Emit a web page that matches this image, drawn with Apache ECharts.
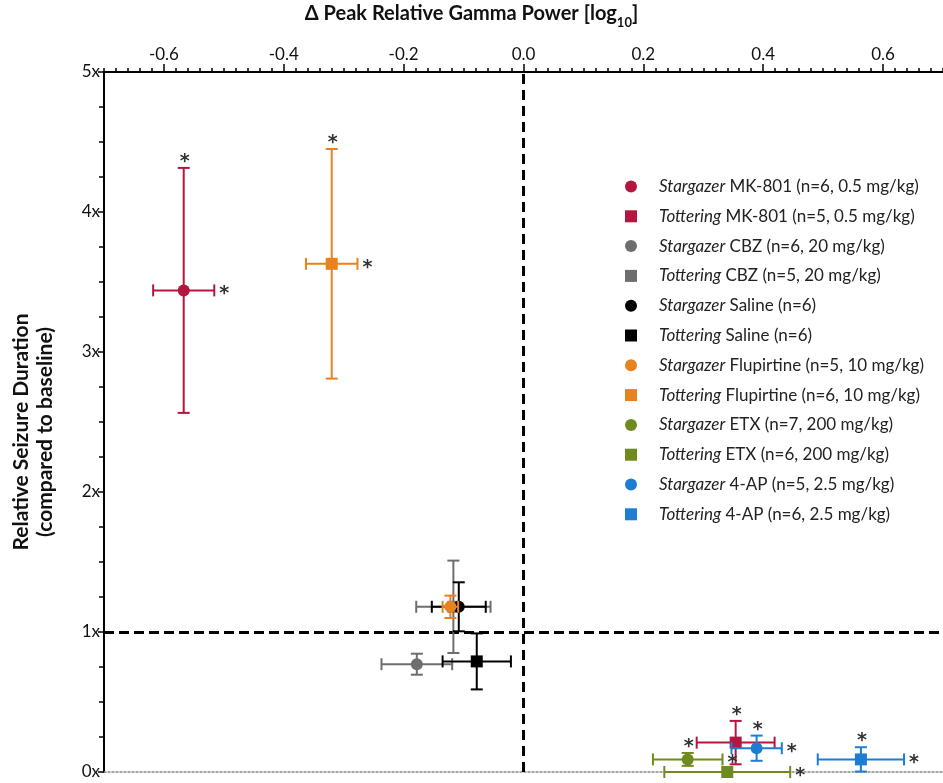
<!DOCTYPE html>
<html>
<head>
<meta charset="utf-8">
<script src="https://cdn.jsdelivr.net/npm/echarts@6/dist/echarts.min.js"></script>
<style>html,body{margin:0;padding:0;background:#fff;}#c{width:943px;height:783px;}</style>
</head>
<body>
<div id="c"></div>
<script>
// ---- data ----
const seriesNames = [
  'Stargazer MK-801 (n=6, 0.5 mg/kg)',
  'Tottering MK-801 (n=5, 0.5 mg/kg)',
  'Stargazer CBZ (n=6, 20 mg/kg)',
  'Tottering CBZ (n=5, 20 mg/kg)',
  'Stargazer Saline (n=6)',
  'Tottering Saline (n=6)',
  'Stargazer Flupirtine (n=5, 10 mg/kg)',
  'Tottering Flupirtine (n=6, 10 mg/kg)',
  'Stargazer ETX (n=7, 200 mg/kg)',
  'Tottering ETX (n=6, 200 mg/kg)',
  'Stargazer 4-AP (n=5, 2.5 mg/kg)',
  'Tottering 4-AP (n=6, 2.5 mg/kg)'
];
const gammaMean = [-0.567, 0.354, -0.178, -0.117, -0.108, -0.078, -0.122, -0.320, 0.274, 0.340, 0.389, 0.563];
const gammaErr  = [0.051, 0.065, 0.059, 0.062, 0.045, 0.057, 0.013, 0.043, 0.058, 0.105, 0.042, 0.072];
const durMean   = [3.44, 0.21, 0.77, 1.18, 1.18, 0.79, 1.18, 3.63, 0.09, 0.00, 0.17, 0.09];
const durErr    = [0.875, 0.155, 0.075, 0.33, 0.175, 0.20, 0.08, 0.82, 0.046, 0.0, 0.09, 0.087];
const starTop   = [1, 1, 0, 0, 0, 0, 0, 1, 1, 0, 1, 1];
const starRight = [1, 0, 0, 0, 0, 0, 0, 1, 1, 1, 1, 1];
const xTickLabels = [-0.6, -0.4, -0.2, 0.0, 0.2, 0.4, 0.6];
const yTickLabels = ['0x', '1x', '2x', '3x', '4x', '5x'];

// ---- styles ----
const colors = ['#B3173F', '#B3173F', '#6E6E6E', '#6E6E6E', '#000000', '#000000',
                '#E8821E', '#E8821E', '#6F8B1F', '#6F8B1F', '#1E7DD2', '#1E7DD2'];
const FONT = 'Lato';

function makeRender(i) {
  return function (params, api) {
    const x = api.value(0), y = api.value(1), xe = api.value(2), ye = api.value(3);
    const c = api.coord([x, y]);
    const l = api.coord([x - xe, y]);
    const r = api.coord([x + xe, y]);
    const t = api.coord([x, y + ye]);
    const b = api.coord([x, y - ye]);
    const col = colors[i];
    const cap = 6;
    const ls = { stroke: col, lineWidth: 2 };
    const ch = [];
    ch.push({ type: 'line', shape: { x1: l[0], y1: c[1], x2: r[0], y2: c[1] }, style: ls });
    ch.push({ type: 'line', shape: { x1: l[0], y1: c[1] - cap, x2: l[0], y2: c[1] + cap }, style: ls });
    ch.push({ type: 'line', shape: { x1: r[0], y1: c[1] - cap, x2: r[0], y2: c[1] + cap }, style: ls });
    if (ye > 0) {
      ch.push({ type: 'line', shape: { x1: c[0], y1: t[1], x2: c[0], y2: b[1] }, style: ls });
      ch.push({ type: 'line', shape: { x1: c[0] - cap, y1: t[1], x2: c[0] + cap, y2: t[1] }, style: ls });
      ch.push({ type: 'line', shape: { x1: c[0] - cap, y1: b[1], x2: c[0] + cap, y2: b[1] }, style: ls });
    }
    if (i % 2 === 0) {
      ch.push({ type: 'circle', shape: { cx: c[0], cy: c[1], r: 6 }, style: { fill: col } });
    } else {
      ch.push({ type: 'rect', shape: { x: c[0] - 6, y: c[1] - 6, width: 12, height: 12 }, style: { fill: col } });
    }
    const starStyle = { text: '*', fill: '#333', font: 'bold 19px "DejaVu Sans"', align: 'center', verticalAlign: 'middle' };
    if (starTop[i]) {
      ch.push({ type: 'text', x: c[0] + 1, y: t[1] - 6, style: Object.assign({}, starStyle) });
    }
    if (starRight[i]) {
      ch.push({ type: 'text', x: r[0] + 10, y: c[1] + 4, style: Object.assign({}, starStyle) });
    }
    return { type: 'group', children: ch };
  };
}

const series = seriesNames.map((n, i) => ({
  name: n,
  type: 'custom',
  xAxisIndex: 0,
  yAxisIndex: 0,
  itemStyle: { color: colors[i] },
  renderItem: makeRender(i),
  data: [[gammaMean[i], durMean[i], gammaErr[i], durErr[i]]],
  z: 10 + i
}));

// reference lines
series.push({
  type: 'line', xAxisIndex: 0, yAxisIndex: 0, data: [], silent: true,
  markLine: {
    symbol: 'none', silent: true, animation: false, label: { show: false },
    data: [
      { xAxis: 0, lineStyle: { color: '#000', width: 3, type: [10, 6] } },
      { yAxis: 1, lineStyle: { color: '#000', width: 3, type: [10, 5] } }
    ]
  },
  z: 5
});

const chart = echarts.init(document.getElementById('c'));
chart.setOption({
  animation: false,
  backgroundColor: '#fff',
  grid: { left: 104, right: 0, top: 72, bottom: 11, containLabel: false },
  xAxis: [
    {
      type: 'value', position: 'top', min: -0.7, max: 0.7, interval: 0.02,
      axisLine: { show: true, onZero: false, lineStyle: { color: '#000', width: 2 } },
      axisTick: { show: true, length: 4, lineStyle: { color: '#000', width: 1.5 } },
      axisLabel: { show: false },
      splitLine: { show: false }
    },
    {
      type: 'value', position: 'top', min: -0.7, max: 0.7, gridIndex: 0,
      axisLine: { show: false, onZero: false },
      axisTick: { show: true, length: 8, customValues: xTickLabels, lineStyle: { color: '#000', width: 1.5 } },
      axisLabel: {
        show: true, customValues: xTickLabels, margin: 9,
        formatter: v => v.toFixed(1),
        fontFamily: FONT, fontSize: 17, color: '#111'
      },
      splitLine: { show: false }
    },
    {
      type: 'value', position: 'bottom', min: -0.7, max: 0.7, gridIndex: 0,
      axisLine: { show: true, onZero: false, lineStyle: { color: '#888', width: 1.5, type: [2, 2] } },
      axisTick: { show: false }, axisLabel: { show: false }, splitLine: { show: false }
    }
  ],
  yAxis: {
    type: 'value', min: 0, max: 5, interval: 1,
    axisLine: { show: true, onZero: false, lineStyle: { color: '#000', width: 2 } },
    axisTick: { show: true, length: 6, lineStyle: { color: '#000', width: 1.5 } },
    minorTick: { show: true, splitNumber: 4, length: 5, lineStyle: { color: '#000', width: 1.5 } },
    axisLabel: { formatter: v => yTickLabels[Math.round(v)], fontFamily: FONT, fontSize: 17, color: '#111', margin: 4 },
    splitLine: { show: false }, minorSplitLine: { show: false }
  },
  legend: {
    orient: 'vertical', left: 620, top: 173,
    itemWidth: 12, itemHeight: 12, itemGap: 12.8,
    data: seriesNames.map((n, i) => ({ name: n, icon: i % 2 === 0 ? 'circle' : 'rect' })),
    formatter: function (name) {
      const sp = name.indexOf(' ');
      return '{i|' + name.slice(0, sp) + '}{r|' + name.slice(sp) + '}';
    },
    textStyle: {
      padding: [0, 0, 0, 17],
      rich: {
        i: { fontFamily: FONT, fontSize: 17, fontStyle: 'italic', color: '#222', lineHeight: 20 },
        r: { fontFamily: FONT, fontSize: 17, color: '#222', lineHeight: 20 }
      }
    }
  },
  graphic: [
    {
      type: 'text', left: 'center', top: 4,
      style: {
        text: '{a|Δ Peak Relative Gamma Power [log}{s|10}{a|]}',
        rich: {
          a: { fontFamily: FONT, fontSize: 20, fontWeight: 'bold', fill: '#111', verticalAlign: 'bottom' },
          s: { fontFamily: FONT, fontSize: 13, fontWeight: 'bold', fill: '#111', verticalAlign: 'bottom', padding: [0, 0, -5, 0] }
        }
      }
    },
    {
      type: 'text', x: 33, y: 432, rotation: Math.PI / 2,
      style: {
        text: 'Relative Seizure Duration\n(compared to baseline)',
        fontFamily: FONT, fontSize: 21, fontWeight: 'bold', fill: '#111',
        align: 'center', verticalAlign: 'middle', lineHeight: 24
      }
    }
  ],
  series: series
});
</script>
</body>
</html>
